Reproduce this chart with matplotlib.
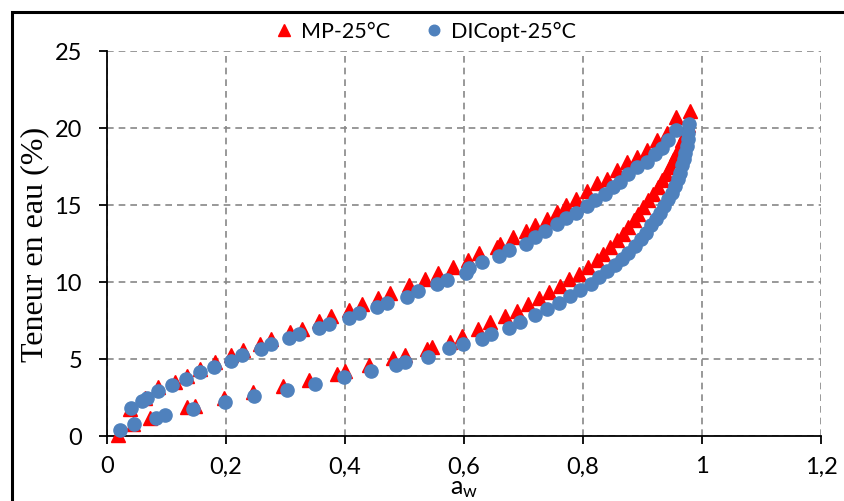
import matplotlib
matplotlib.use("Agg")
import matplotlib.pyplot as plt
from matplotlib.patches import Rectangle
import numpy as np

# MP-25°C : adsorption (lower branch) and desorption (upper branch)
mp_ads_aw = [0.018, 0.043, 0.072, 0.134, 0.148, 0.196, 0.246, 0.296, 0.340, 0.386,
             0.400, 0.441, 0.481, 0.501, 0.538, 0.547, 0.577, 0.596, 0.624, 0.644,
             0.669, 0.689, 0.708, 0.726, 0.743, 0.762, 0.777, 0.793, 0.809, 0.823,
             0.834, 0.845, 0.857, 0.867, 0.876, 0.885, 0.893, 0.901, 0.910, 0.918,
             0.926, 0.932, 0.939, 0.946, 0.952, 0.957, 0.963, 0.967, 0.972, 0.977,
             0.980]
mp_ads_w = [0.05, 0.75, 1.20, 1.86, 1.97, 2.50, 2.85, 3.22, 3.63, 4.02,
            4.20, 4.60, 5.06, 5.26, 5.65, 5.77, 6.10, 6.50, 6.95, 7.40,
            7.77, 8.14, 8.57, 8.96, 9.37, 9.76, 10.20, 10.55, 10.98, 11.40,
            11.80, 12.25, 12.70, 13.10, 13.55, 14.00, 14.40, 14.85, 15.30, 15.70,
            16.15, 16.60, 17.00, 17.45, 17.90, 18.30, 18.75, 19.20, 19.60, 20.20,
            21.10]
mp_des_aw = [0.957, 0.941, 0.924, 0.907, 0.890, 0.874, 0.857, 0.840, 0.823, 0.806,
             0.789, 0.772, 0.757, 0.739, 0.720, 0.704, 0.682, 0.660, 0.655, 0.626,
             0.607, 0.582, 0.557, 0.534, 0.508, 0.476, 0.456, 0.428, 0.407, 0.376,
             0.357, 0.327, 0.308, 0.276, 0.257, 0.229, 0.208, 0.181, 0.156, 0.134,
             0.114, 0.086, 0.064, 0.039]
mp_des_w = [20.70, 19.70, 19.20, 18.60, 18.10, 17.80, 17.25, 16.70, 16.40, 15.90,
            15.40, 15.00, 14.55, 14.10, 13.70, 13.30, 12.90, 12.50, 12.25, 11.90,
            11.45, 10.95, 10.60, 10.20, 9.80, 9.30, 8.94, 8.57, 8.20, 7.80,
            7.45, 6.95, 6.73, 6.30, 5.97, 5.56, 5.23, 4.80, 4.35, 3.90,
            3.50, 3.16, 2.50, 1.75]

# DICopt-25°C
dic_ads_aw = [0.022, 0.045, 0.082, 0.098, 0.145, 0.198, 0.247, 0.302, 0.349, 0.398,
              0.443, 0.486, 0.501, 0.540, 0.575, 0.598, 0.631, 0.646, 0.676, 0.694,
              0.720, 0.739, 0.759, 0.778, 0.795, 0.813, 0.827, 0.841, 0.854, 0.865,
              0.876, 0.887, 0.897, 0.906, 0.914, 0.922, 0.929, 0.936, 0.943, 0.949,
              0.955, 0.959, 0.963, 0.967, 0.970, 0.972, 0.974, 0.976, 0.977, 0.978]
dic_ads_w = [0.39, 0.76, 1.17, 1.34, 1.75, 2.18, 2.58, 2.99, 3.38, 3.80,
             4.20, 4.61, 4.78, 5.15, 5.70, 6.00, 6.30, 6.60, 7.00, 7.40,
             7.84, 8.25, 8.65, 9.08, 9.48, 9.88, 10.30, 10.70, 11.10, 11.50,
             11.90, 12.35, 12.80, 13.20, 13.70, 14.10, 14.50, 14.96, 15.40, 15.80,
             16.26, 16.70, 17.10, 17.60, 18.00, 18.40, 18.85, 19.30, 19.70, 20.26]
dic_des_aw = [0.957, 0.943, 0.932, 0.921, 0.907, 0.890, 0.876, 0.862, 0.851, 0.837,
              0.820, 0.806, 0.789, 0.772, 0.756, 0.736, 0.720, 0.704, 0.676, 0.658,
              0.631, 0.609, 0.604, 0.571, 0.555, 0.523, 0.505, 0.470, 0.454, 0.423,
              0.406, 0.373, 0.357, 0.322, 0.306, 0.276, 0.258, 0.227, 0.208, 0.180,
              0.157, 0.132, 0.109, 0.086, 0.067, 0.058, 0.040]
dic_des_w = [19.90, 19.20, 18.70, 18.30, 17.80, 17.45, 17.00, 16.50, 16.15, 15.70,
             15.35, 14.95, 14.50, 14.15, 13.74, 13.30, 12.94, 12.50, 12.10, 11.66,
             11.27, 10.90, 10.60, 10.15, 9.87, 9.44, 9.05, 8.64, 8.40, 7.99,
             7.69, 7.30, 7.00, 6.60, 6.34, 5.96, 5.65, 5.26, 4.89, 4.50,
             4.16, 3.72, 3.31, 2.92, 2.50, 2.30, 1.84]

RED = "#FF0000"
BLUE = "#4F81BD"
TICK_FONT = ["Lato", "DejaVu Sans"]


def main():
    fig = plt.figure(figsize=(8.44, 5.02), dpi=100)
    ax = fig.add_axes([107 / 844, 1 - 437 / 502, (821 - 107) / 844, (437 - 52) / 502])

    mp_aw = np.r_[mp_ads_aw, mp_des_aw]
    mp_w = np.r_[mp_ads_w, mp_des_w]
    dic_aw = np.r_[dic_ads_aw, dic_des_aw]
    dic_w = np.r_[dic_ads_w, dic_des_w]

    ax.plot(mp_aw, mp_w, ls="none", marker="^", ms=10, color=RED, mec=RED,
            label="MP-25°C", zorder=3, clip_on=False)
    ax.plot(dic_aw, dic_w, ls="none", marker="o", ms=9.5, color=BLUE, mec=BLUE,
            label="DICopt-25°C", zorder=4, clip_on=False)

    ax.set_xlim(0, 1.2)
    ax.set_ylim(0, 25)
    ax.set_xticks(np.arange(0, 1.21, 0.2))
    ax.set_xticklabels(["0", "0,2", "0,4", "0,6", "0,8", "1", "1,2"])
    ax.set_yticks(range(0, 26, 5))

    ax.grid(True, color="#888888", ls=(0, (4, 3)), lw=1.2)
    ax.set_axisbelow(True)
    for s in ("top", "right"):
        ax.spines[s].set_visible(False)
    for s in ("left", "bottom"):
        ax.spines[s].set_linewidth(1.3)

    ax.tick_params(direction="out", length=6, width=1.3)
    ax.tick_params(axis="x", pad=8)
    ax.tick_params(axis="y", pad=12)
    for lab in ax.get_xticklabels() + ax.get_yticklabels():
        lab.set_family(TICK_FONT)
        lab.set_fontsize(17)

    ax.set_xlabel(r"$\mathregular{a_w}$", family=TICK_FONT, fontsize=18, labelpad=0)
    ax.set_ylabel("Teneur en eau (%)", family="Liberation Serif", fontsize=23,
                  labelpad=4)

    fig.legend(loc="center", bbox_to_anchor=(0.503, 1 - 32 / 502), ncol=2,
               frameon=False, handletextpad=0.3, columnspacing=1.5,
               handlelength=1.0,
               prop={"family": TICK_FONT, "size": 15.5}, markerscale=0.8)

    fig.patches.append(Rectangle((12 / 844, -0.1), 1.0, 1.1 - 13 / 502,
                                 transform=fig.transFigure, fill=False,
                                 ec="black", lw=2.2))

    fig.savefig("out.png", dpi=100)


if __name__ == "__main__":
    main()
